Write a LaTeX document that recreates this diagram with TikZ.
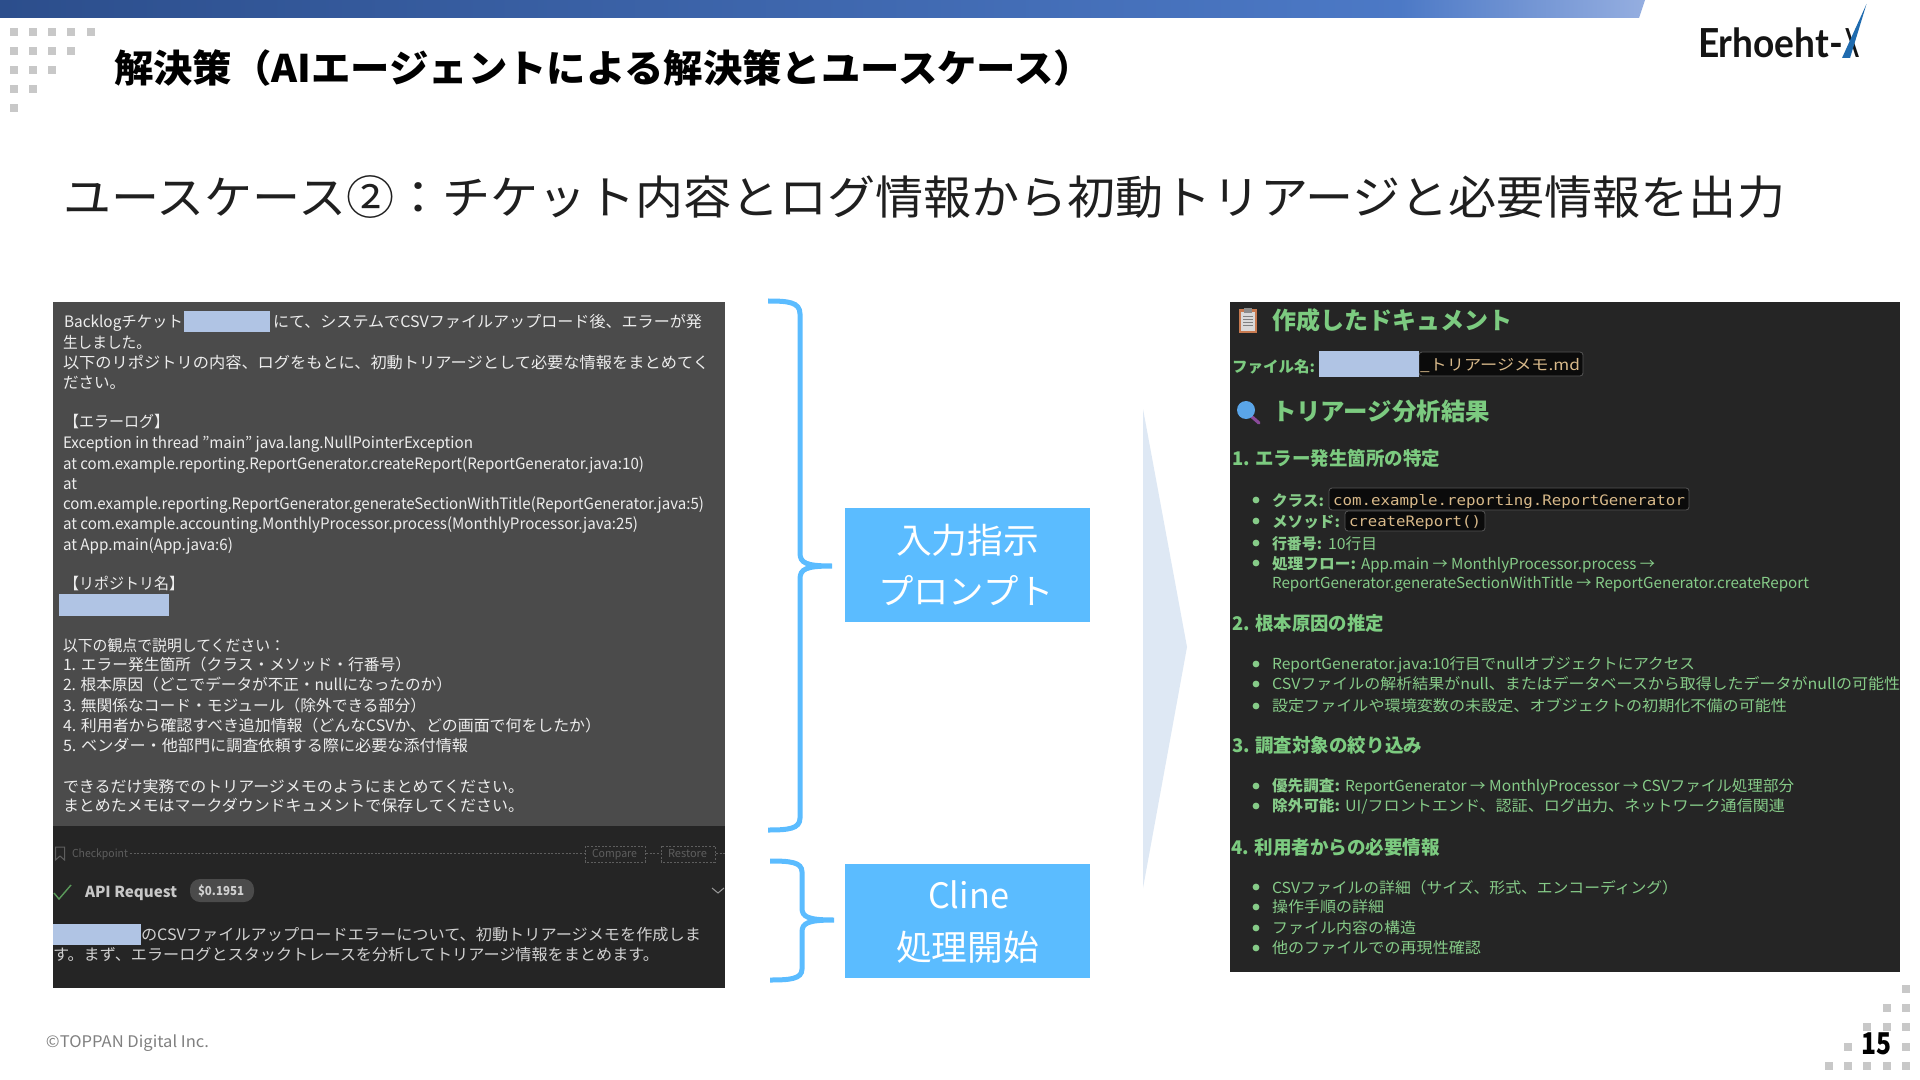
\documentclass[tikz,border=0pt]{standalone}
\usepackage{fontspec}
\usepackage{graphicx}
\setmainfont{Noto Sans CJK JP}
\newfontfamily\monof{DejaVu Sans Mono}
\newfontfamily\logof{Lato}
\definecolor{panelg}{HTML}{4B4B4B}
\definecolor{paneld}{HTML}{252525}
\definecolor{redact}{HTML}{B0C4E4}
\definecolor{skyb}{HTML}{5BBCFF}
\definecolor{dotg}{HTML}{C8C8C8}
\definecolor{lgreen}{HTML}{86CB88}
\definecolor{hgreen}{HTML}{7CCB80}
\definecolor{codeg}{HTML}{D8B98A}
\definecolor{dimg}{HTML}{5E5E5E}
\definecolor{barA}{HTML}{2C4E8C}
\definecolor{barB}{HTML}{4C79C6}
\definecolor{barC}{HTML}{95AEE0}
\definecolor{logob}{HTML}{1F6BAF}
\definecolor{checkg}{HTML}{5A9A5A}
\definecolor{arrowb}{HTML}{DEE8F4}
\definecolor{clipb}{HTML}{C87A50}
\definecolor{magb}{HTML}{5AA5E8}
\definecolor{magp}{HTML}{8A4A9A}
\newcommand{\tx}[6]{\node[txt,#5] (#1) at (#2,#3) {\resizebox{\dimexpr#4pt/2\relax}{\height}{#6}};}
\newcommand{\bul}[1]{\fill[lgreen] (1256,#1) circle (3.4);}
\tikzset{
 x=0.5pt,y=-0.5pt,
 txt/.style={inner sep=0pt,outer sep=0pt,anchor=base west},
 prompt/.style={font=\fontsize{7.85pt}{9pt}\selectfont,text=white!93!black},
 reply/.style={font=\fontsize{7.85pt}{9pt}\selectfont,text=white!82!black},
 faint/.style={font=\fontsize{5.5pt}{7pt}\selectfont,text=dimg},
 fine/.style={draw=dimg,line width=0.4pt,dash pattern=on 1pt off 0.8pt},
 h1g/.style={font=\fontsize{12pt}{14pt}\selectfont\bfseries,text=hgreen},
 h2g/.style={font=\fontsize{9.4pt}{11pt}\selectfont\bfseries,text=hgreen},
 bodyg/.style={font=\fontsize{7.6pt}{9pt}\selectfont,text=lgreen},
 boldg/.style={font=\fontsize{7.6pt}{9pt}\selectfont\bfseries,text=lgreen},
 codet/.style={font=\fontsize{7.6pt}{9pt}\selectfont,text=codeg},
 codebg/.style={fill=black!70!paneld,draw=white!22!paneld,line width=0.4pt,rounded corners=1.5pt},
 blabel/.style={font=\fontsize{17.5pt}{20pt}\selectfont,text=white},
 bracestroke/.style={draw=skyb,line width=2.5pt},
 redbox/.style={fill=redact},
 dot/.style={fill=dotg},
}
\newcommand{\dotat}[2]{\fill[dot] (#1-4.4,#2-4.4) rectangle (#1+4.4,#2+4.4);}
\begin{document}
\begin{tikzpicture}
\useasboundingbox (0,0) rectangle (1920,1080);
\fill[white] (0,0) rectangle (1920,1080);
% top bar
\shade[left color=barA,right color=barB] (0,0) rectangle (1400,18);
\shade[left color=barB,right color=barC] (1399.5,0) -- (1645,0) -- (1639,18) -- (1399.5,18) -- cycle;
% dots top-left
\foreach \x/\n in {14/108,33/89,52/70,71/51,91/32}{\foreach \y in {32,51,70,89,108}{\ifnum\y>\n\else\dotat{\x}{\y}\fi}}
% dots bottom-right
\foreach \x/\y in {1906/989,1887/1008,1906/1008,1867/1027,1887/1027,1906/1027,1848/1047,1906/1047,1829/1066,1848/1066,1867/1066,1887/1066,1906/1066}{\dotat{\x}{\y}}
% headings
\tx{title}{114}{83}{979}{font=\fontsize{19pt}{22pt}\selectfont\bfseries,text=black}{解決策（AIエージェントによる解決策とユースケース）}
\tx{sub}{63}{215}{1722}{font=\fontsize{23pt}{26pt}\selectfont,text=black!88}{ユースケース②：チケット内容とログ情報から初動トリアージと必要情報を出力}
% logo
\tx{logoa}{1698}{58}{145}{font=\fontsize{20pt}{22pt}\selectfont\logof\bfseries,text=black!92}{Erhoeht-}
\tx{logob}{1845}{58}{14}{font=\fontsize{20pt}{22pt}\selectfont\logof\bfseries,text=black!92}{X}
\fill[logob] (1842,58) -- (1850,58) -- (1866.5,4) -- cycle;
% left panel
\fill[panelg] (53,302) rectangle (725,826);
\fill[paneld] (53,826) rectangle (725,988);
\tx{p1a}{64}{328}{119}{prompt}{Backlogチケット}
\fill[redbox] (183.5,311) rectangle (270,332);
\tx{p1b}{273}{328}{429}{prompt}{にて、システムでCSVファイルアップロード後、エラーが発}
\tx{p2}{63}{349}{88}{prompt}{生しました。}
\tx{p3}{63}{369}{646}{prompt}{以下のリポジトリの内容、ログをもとに、初動トリアージとして必要な情報をまとめてく}
\tx{p4}{63}{389}{62}{prompt}{ださい。}
\tx{p5}{64}{428}{105}{prompt}{【エラーログ】}
\tx{p6}{63}{448}{410}{prompt}{Exception in thread "main" java.lang.NullPointerException}
\tx{p7}{63}{469}{581}{prompt}{at com.example.reporting.ReportGenerator.createReport(ReportGenerator.java:10)}
\tx{p8}{63}{489}{14}{prompt}{at}
\tx{p9}{63}{509}{641}{prompt}{com.example.reporting.ReportGenerator.generateSectionWithTitle(ReportGenerator.java:5)}
\tx{p10}{63}{529}{575}{prompt}{at com.example.accounting.MonthlyProcessor.process(MonthlyProcessor.java:25)}
\tx{p11}{63}{550}{170}{prompt}{at App.main(App.java:6)}
\tx{p12}{64}{589}{120}{prompt}{【リポジトリ名】}
\fill[redbox] (59,594) rectangle (169,616);
\tx{p13}{63}{651}{222}{prompt}{以下の観点で説明してください：}
\tx{p14}{63}{670}{348}{prompt}{1. エラー発生箇所（クラス・メソッド・行番号）}
\tx{p15}{63}{690}{389}{prompt}{2. 根本原因（どこでデータが不正・nullになったのか）}
\tx{p16}{63}{711}{363}{prompt}{3. 無関係なコード・モジュール（除外できる部分）}
\tx{p17}{63}{731}{538}{prompt}{4. 利用者から確認すべき追加情報（どんなCSVか、どの画面で何をしたか）}
\tx{p18}{63}{751}{405}{prompt}{5. ベンダー・他部門に調査依頼する際に必要な添付情報}
\tx{p19}{63}{792}{461}{prompt}{できるだけ実務でのトリアージメモのようにまとめてください。}
\tx{p20}{63}{811}{461}{prompt}{まとめたメモはマークダウンドキュメントで保存してください。}
% checkpoint row
\draw[dimg,line width=0.5pt] (55.5,847) -- (64.5,847) -- (64.5,860) -- (60,856) -- (55.5,860) -- cycle;
\tx{cp}{72}{857}{56}{faint}{Checkpoint}
\path[fine] (130,853) -- (584,853) (646,853) -- (660,853) (716,853) -- (725,853);
\path[fine] (585,846) rectangle (645,862);
\path[fine] (661,846) rectangle (715,862);
\tx{cmp}{592}{857}{45}{faint}{Compare}
\tx{rst}{668}{857}{39}{faint}{Restore}
% API request row
\draw[checkg,line width=0.7pt] (54,893) -- (59,899) -- (71,885);
\tx{api}{85}{897}{92}{font=\fontsize{7.6pt}{9pt}\selectfont\bfseries,text=white!78!black}{API Request}
\fill[panelg,rounded corners=5pt] (190,879) rectangle (254,902);
\tx{cost}{198}{895}{46}{font=\fontsize{6.2pt}{8pt}\selectfont\bfseries,text=white!82!black}{\$0.1951}
\draw[white!60!black,line width=0.5pt] (712,888) -- (718,893) -- (724,888);
\fill[redbox] (53,924) rectangle (141,945);
\tx{r1}{141}{940}{560}{reply}{のCSVファイルアップロードエラーについて、初動トリアージメモを作成しま}
\tx{r2}{53}{960}{606}{reply}{す。まず、エラーログとスタックトレースを分析してトリアージ情報をまとめます。}
% braces
\coordinate (b1t) at (768,301);\coordinate (b1m) at (832,566);\coordinate (b1b) at (768,830);
\path[bracestroke] (b1t) .. controls (788,301) and (800,302) .. (800,314) -- (800,553) .. controls (800,563) and (806,566) .. (b1m)
  (b1m) .. controls (806,566) and (800,569) .. (800,579) -- (800,818) .. controls (800,829) and (788,830) .. (b1b);
\coordinate (b2t) at (770,861);\coordinate (b2m) at (834,920);\coordinate (b2b) at (770,980);
\path[bracestroke] (b2t) .. controls (790,861) and (802,862) .. (802,872) -- (802,908) .. controls (802,917) and (808,920) .. (b2m)
  (b2m) .. controls (808,920) and (802,923) .. (802,932) -- (802,969) .. controls (802,979) and (790,980) .. (b2b);
% blue boxes
\fill[skyb] (845,508) rectangle (1090,622);
\tx{ba}{896}{553}{143}{blabel}{入力指示}
\tx{bb}{878}{604}{176}{blabel}{プロンプト}
\fill[skyb] (845,864) rectangle (1090,978);
\tx{bc}{928}{908}{81}{blabel}{Cline}
\tx{bd}{896}{960}{143}{blabel}{処理開始}
% big arrow
\fill[arrowb] (1143,409) -- (1187,647) -- (1143,888) -- cycle;
% right panel
\fill[paneld] (1230,302) rectangle (1900,972);
% clipboard icon
\fill[clipb] (1239,309) rectangle (1257,333);
\fill[white!85!black] (1241,312) rectangle (1255,331);
\fill[white!55!black] (1244,308) rectangle (1252,313);
\foreach \y in {316,319,322,325}{\draw[white!50!black,line width=0.4pt] (1243,\y) -- (1253,\y);}
\tx{ra}{1272}{329}{240}{h1g}{作成したドキュメント}
\tx{rb}{1232}{372}{83}{font=\fontsize{7.6pt}{9pt}\selectfont\bfseries,text=hgreen}{ファイル名:}
\path[codebg] (1419,352) rectangle (1583,376);
\fill[redbox] (1319,351) rectangle (1419,377);
\tx{rc}{1420}{370}{160}{codet}{\_トリアージメモ.md}
% magnifier
\draw[magp,line width=1.6pt,line cap=round] (1251,416) -- (1259,423);
\fill[magb] (1246,410) circle (9);
\tx{rd}{1272}{421}{218}{h1g}{トリアージ分析結果}
\tx{h1}{1232}{466}{208}{h2g}{1. エラー発生箇所の特定}
\bul{500}\bul{521}\bul{543}\bul{563}
\tx{l1}{1272}{506}{52}{boldg}{クラス:}
\path[codebg] (1329,488) rectangle (1689,510);
\tx{l1c}{1333}{505}{352}{codet,font=\fontsize{7.2pt}{9pt}\selectfont\monof}{com.example.reporting.ReportGenerator}
\tx{l2}{1272}{527}{68}{boldg}{メソッド:}
\path[codebg] (1345,511) rectangle (1485,531);
\tx{l2c}{1349}{526}{132}{codet,font=\fontsize{7.2pt}{9pt}\selectfont\monof}{createReport()}
\tx{l3}{1272}{549}{50}{boldg}{行番号:}
\tx{l3b}{1328}{549}{49}{bodyg}{10行目}
\tx{l4}{1272}{569}{84}{boldg}{処理フロー:}
\tx{l4b}{1361}{569}{294}{bodyg}{App.main → MonthlyProcessor.process →}
\tx{l5}{1272}{588}{537}{bodyg}{ReportGenerator.generateSectionWithTitle → ReportGenerator.createReport}
\tx{h2}{1232}{630}{152}{h2g}{2. 根本原因の推定}
\bul{664}\bul{684}\bul{706}
\tx{m1}{1272}{669}{423}{bodyg}{ReportGenerator.java:10行目でnullオブジェクトにアクセス}
\tx{m2}{1272}{689}{628}{bodyg}{CSVファイルの解析結果がnull、またはデータベースから取得したデータがnullの可能性}
\tx{m3}{1272}{711}{515}{bodyg}{設定ファイルや環境変数の未設定、オブジェクトの初期化不備の可能性}
\tx{h3}{1232}{752}{190}{h2g}{3. 調査対象の絞り込み}
\bul{786}\bul{806}
\tx{n1}{1272}{791}{68}{boldg}{優先調査:}
\tx{n1b}{1345}{791}{449}{bodyg}{ReportGenerator → MonthlyProcessor → CSVファイル処理部分}
\tx{n2}{1272}{811}{68}{boldg}{除外可能:}
\tx{n2b}{1345}{811}{440}{bodyg}{UI/フロントエンド、認証、ログ出力、ネットワーク通信関連}
\tx{h4}{1231}{854}{209}{h2g}{4. 利用者からの必要情報}
\bul{887}\bul{907}\bul{928}\bul{948}
\tx{o1}{1272}{893}{406}{bodyg}{CSVファイルの詳細（サイズ、形式、エンコーディング）}
\tx{o2}{1272}{912}{112}{bodyg}{操作手順の詳細}
\tx{o3}{1272}{933}{144}{bodyg}{ファイル内容の構造}
\tx{o4}{1272}{953}{209}{bodyg}{他のファイルでの再現性確認}
% footer
\tx{foot}{46}{1047}{163}{font=\fontsize{8pt}{10pt}\selectfont,text=black!50}{©TOPPAN Digital Inc.}
\tx{pg}{1861}{1054}{30}{font=\fontsize{15pt}{17pt}\selectfont\bfseries,text=black}{15}
\end{tikzpicture}
\end{document}
